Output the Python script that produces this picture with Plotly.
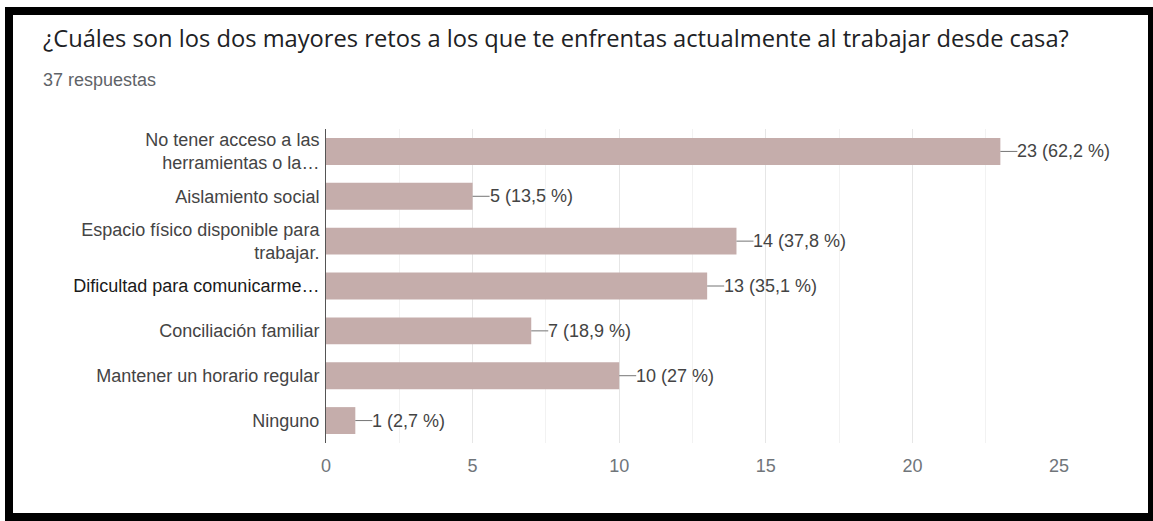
import plotly.graph_objects as go

# Survey answers (multi-select: up to two per respondent)
categories = [
    "No tener acceso a las<br>herramientas o la…",
    "Aislamiento social",
    "Espacio físico disponible para<br>trabajar.",
    "Dificultad para comunicarme…",
    "Conciliación familiar",
    "Mantener un horario regular",
    "Ninguno",
]
counts = [23, 5, 14, 13, 7, 10, 1]
percents = ["62,2", "13,5", "37,8", "35,1", "18,9", "27", "2,7"]
x_ticks = [0, 5, 10, 15, 20, 25]
total_responses = 37
title_text = "¿Cuáles son los dos mayores retos a los que te enfrentas actualmente al trabajar desde casa?"

W, H = 1153, 521
L, R, T, B = 326, 94, 129, 78
PW, PH = W - L - R, H - T - B

def px(x):
    return (x - L) / PW

def py(y):
    return (H - B - y) / PH

BAR_COLOR = "#c5adab"
FONT = "Liberation Sans, Arial, sans-serif"
TITLE_FONT = "Open Sans, sans-serif"

tick_labels = []
for c in categories:
    if c.startswith("Dificultad"):
        tick_labels.append(f"<span style='color:#1a1a1a'>{c}</span>")
    else:
        tick_labels.append(c)

fig = go.Figure()
fig.add_trace(go.Bar(
    x=counts,
    y=list(range(len(categories))),
    orientation="h",
    marker=dict(color=BAR_COLOR, line=dict(width=0)),
    width=0.6,
    hoverinfo="skip",
))

shapes = [
    # black frame around the card
    dict(type="rect", xref="paper", yref="paper", x0=px(5), x1=px(1153), y0=py(521), y1=py(7),
         fillcolor="black", line=dict(width=0), layer="below"),
    dict(type="rect", xref="paper", yref="paper", x0=px(13), x1=px(1148), y0=py(513), y1=py(15),
         fillcolor="white", line=dict(width=0), layer="below"),
]
annotations = []
for i, (c, p) in enumerate(zip(counts, percents)):
    # short leader line from the bar end to its value label
    shapes.append(dict(type="line", xref="x", yref="y", xsizemode="pixel", xanchor=c,
                       x0=0, x1=17, y0=i, y1=i, line=dict(color="#757575", width=1)))
    annotations.append(dict(x=c, y=i, xref="x", yref="y", xanchor="left", yanchor="middle",
                            xshift=15, showarrow=False, text=f"{c} ({p} %)",
                            font=dict(family=FONT, size=18, color="#444444")))

annotations.append(dict(x=px(41), y=py(38), xref="paper", yref="paper", xanchor="left",
                        yanchor="middle", showarrow=False, text=title_text,
                        font=dict(family=TITLE_FONT, size=23.7, color="#202124")))
annotations.append(dict(x=px(41), y=py(80), xref="paper", yref="paper", xanchor="left",
                        yanchor="middle", showarrow=False, text=f"{total_responses} respuestas",
                        font=dict(family=FONT, size=18, color="#5f6368")))

fig.update_layout(
    width=W, height=H,
    margin=dict(l=L, r=R, t=T, b=B, pad=0),
    paper_bgcolor="white", plot_bgcolor="white",
    showlegend=False,
    shapes=shapes,
    annotations=annotations,
    xaxis=dict(
        range=[0, 25], tickvals=x_ticks, ticktext=[str(v) for v in x_ticks],
        showgrid=True, gridcolor="#e6e6e6", gridwidth=1,
        minor=dict(dtick=2.5, tick0=0, showgrid=True, gridcolor="#f2f2f2"),
        zeroline=False, showline=False, ticks="",
        tickfont=dict(family=FONT, size=18, color="#70757a"),
        ticklabelstandoff=10,
    ),
    yaxis=dict(
        range=[len(categories) - 0.5, -0.5],
        tickvals=list(range(len(categories))), ticktext=tick_labels,
        showgrid=False, zeroline=False,
        showline=True, linecolor="#555555", linewidth=1,
        ticks="", ticklabelstandoff=2,
        tickfont=dict(family=FONT, size=18, color="#444444"),
    ),
)

fig.write_html("out.html")
